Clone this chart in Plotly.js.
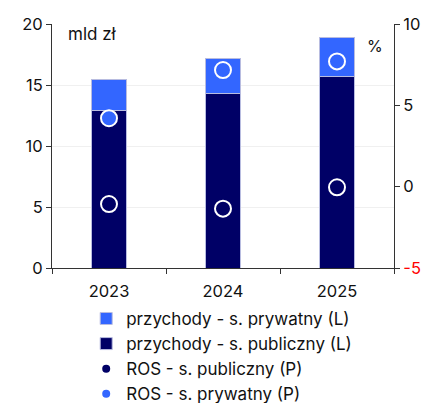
<!DOCTYPE html>
<html><head><meta charset="utf-8">
<script src="https://cdn.plot.ly/plotly-3.0.1.min.js"></script>
<style>html,body{margin:0;padding:0;background:#fff}#c{width:434px;height:403px}</style>
</head><body><div id="c"></div>
<script>
const years = ['2023', '2024', '2025'];
const revPublic = [12.93, 14.3, 15.73];
const revPrivate = [2.49, 2.85, 3.17];
const rosPublic = [-1.07, -1.35, -0.04];
const rosPrivate = [4.21, 7.17, 7.7];
const leftTicks = [0, 5, 10, 15, 20];
const rightTicks = [-5, 0, 5, 10];
const rightTickText = ['<span style="color:#ff0000">-5</span>', '0', '5', '10'];

const navy = '#000066';
const blue = '#3366ff';
const F = 'Inter, "DejaVu Sans", sans-serif';

const traces = [
  {type:'bar', x:years, y:revPublic, name:'przychody - s. publiczny (L)', marker:{color:navy, line:{color:'#b8bce0', width:1}}, legendrank:2, hoverinfo:'skip'},
  {type:'bar', x:years, y:revPrivate, name:'przychody - s. prywatny (L)', marker:{color:blue, line:{color:'#b8bce0', width:1}}, legendrank:1, hoverinfo:'skip'},
  {type:'scatter', mode:'markers', x:years, y:rosPublic, yaxis:'y2', showlegend:false, marker:{size:16, color:navy, line:{color:'#ffffff', width:2}}},
  {type:'scatter', mode:'markers', x:years, y:rosPrivate, yaxis:'y2', showlegend:false, marker:{size:16, color:blue, line:{color:'#ffffff', width:2}}},
  {type:'scatter', mode:'markers', x:[null], y:[null], yaxis:'y2', name:'ROS - s. publiczny (P)', marker:{size:8, color:navy}, legendrank:3},
  {type:'scatter', mode:'markers', x:[null], y:[null], yaxis:'y2', name:'ROS - s. prywatny (P)', marker:{size:8, color:blue}, legendrank:4}
];

const layout = {
  width:434, height:403,
  margin:{l:52, r:40, t:24, b:135, autoexpand:false},
  paper_bgcolor:'#fff', plot_bgcolor:'#fff',
  font:{family:F, size:16, color:'#111'},
  barmode:'stack', bargap:0.69,
  showlegend:true,
  legend:{x:0.1, xanchor:'left', y:-0.135, yanchor:'top', orientation:'v', font:{size:17, family:F, color:'#111'}, tracegroupgap:0, itemsizing:'trace', traceorder:'normal', bgcolor:'rgba(0,0,0,0)'},
  xaxis:{type:'category', showline:true, linecolor:'#333', linewidth:1, ticks:'outside', tickson:'boundaries', ticklen:5, tickcolor:'#333', showgrid:false, tickfont:{size:16.5}, ticklabelstandoff:8},
  yaxis:{range:[0,20], tickvals:leftTicks, showline:true, linecolor:'#333', linewidth:1, ticks:'outside', ticklen:5, tickcolor:'#333', showgrid:true, gridcolor:'#f0f0f0', zeroline:false, tickfont:{size:16.5}},
  yaxis2:{overlaying:'y', side:'right', range:[-5,10], tickvals:rightTicks, ticktext:rightTickText, showline:true, linecolor:'#333', linewidth:1, ticks:'outside', ticklen:5, tickcolor:'#333', showgrid:false, zeroline:false, tickfont:{size:16.5}},
  annotations:[
    {text:'mld zł', xref:'paper', yref:'paper', x:0.04, y:0.96, xanchor:'left', yanchor:'middle', showarrow:false, font:{size:17, family:F, color:'#111'}},
    {text:'%', xref:'paper', yref:'paper', x:0.975, y:0.91, xanchor:'right', yanchor:'middle', showarrow:false, font:{size:16, family:F, color:'#111'}}
  ]
};

Plotly.newPlot('c', traces, layout, {displayModeBar:false, staticPlot:true});
</script>
</body></html>
